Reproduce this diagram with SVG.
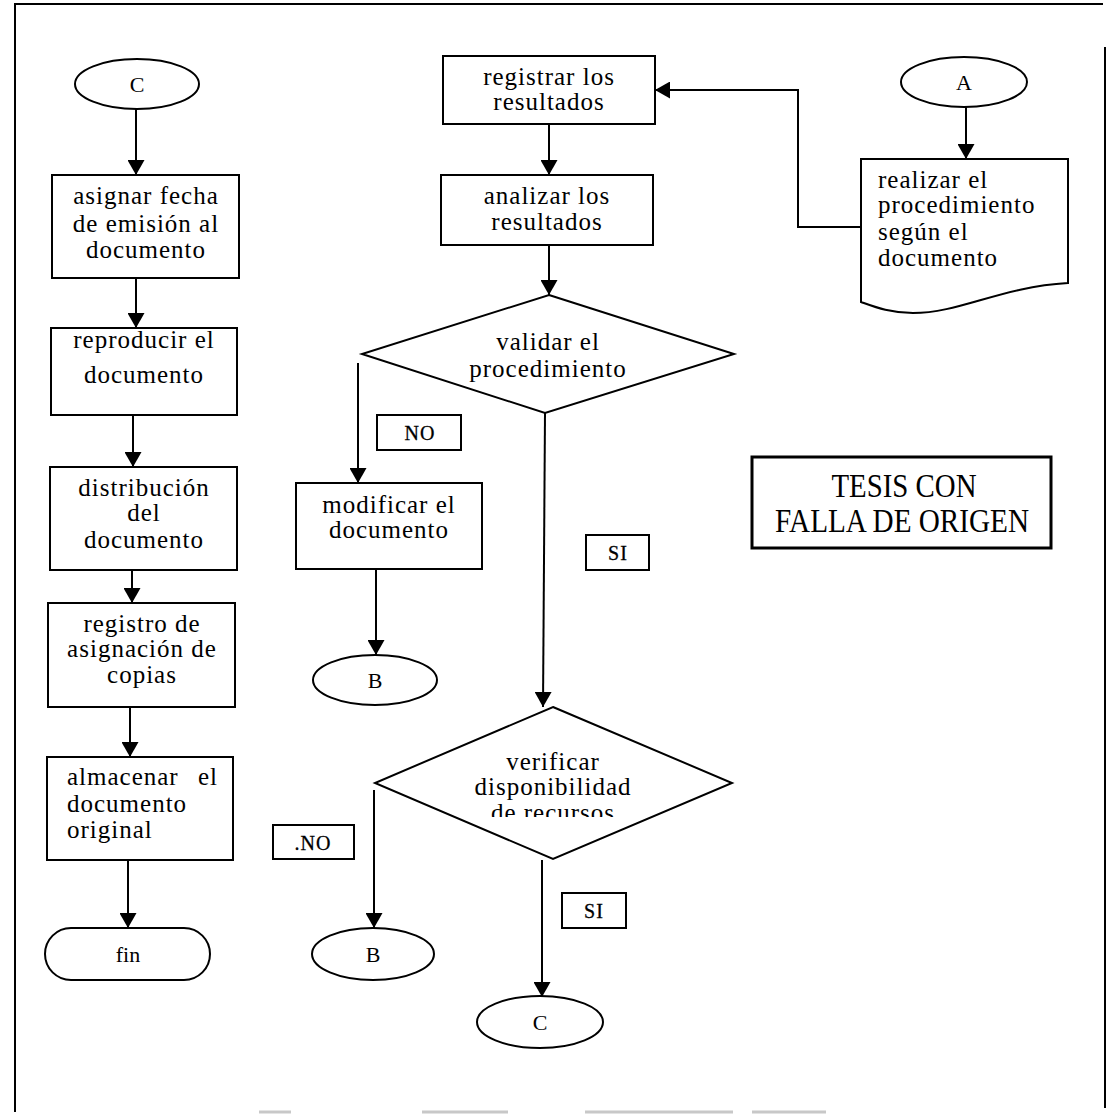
<svg xmlns="http://www.w3.org/2000/svg" width="1108" height="1114" viewBox="0 0 1108 1114">
  <style>
    .shape { fill: none; stroke: #000; stroke-width: 2; }
    .line { fill: none; stroke: #000; stroke-width: 2; }
    .t { font-family: "Liberation Serif", "DejaVu Serif", serif; font-size: 25px; letter-spacing: 1px; fill: #000; text-anchor: middle; }
    .tl { text-anchor: start; }
    .lbl { font-family: "Liberation Serif", "DejaVu Serif", serif; font-size: 20px; letter-spacing: 1px; fill: #000; text-anchor: middle; stroke: #000; stroke-width: 0.3; }
    .conn { font-family: "Liberation Serif", "DejaVu Serif", serif; font-size: 22px; fill: #000; text-anchor: middle; }
    .stamp { font-family: "Liberation Serif", "DejaVu Serif", serif; font-size: 33px; fill: #000; text-anchor: middle; }
  </style>
  <defs>
    <marker id="arrow" markerUnits="userSpaceOnUse" viewBox="0 0 15 17" markerWidth="15" markerHeight="17" refX="15" refY="8.5" orient="auto">
      <path d="M0,0 L15,8.5 L0,17 Z" fill="#000"/>
    </marker>
    <clipPath id="clipVerificar">
      <rect x="375" y="740" width="360" height="77"/>
    </clipPath>
  </defs>

  <rect width="1108" height="1114" fill="#fff"/>

  <!-- page frame -->
  <g id="frame">
    <path class="line" d="M15,1112 V4 H1103"/>
    <path class="line" d="M1105,47 V1108"/>
    <g stroke="#c8c8c8" stroke-width="3">
      <line x1="259" y1="1112" x2="291" y2="1112"/>
      <line x1="422" y1="1112" x2="508" y2="1112"/>
      <line x1="585" y1="1112" x2="733" y2="1112"/>
      <line x1="752" y1="1112" x2="826" y2="1112"/>
    </g>
  </g>

  <!-- connectors -->
  <g id="connectors">
    <line class="line" x1="136" y1="109" x2="136" y2="175" marker-end="url(#arrow)"/>
    <line class="line" x1="136" y1="278" x2="136" y2="328" marker-end="url(#arrow)"/>
    <line class="line" x1="133" y1="415" x2="133" y2="467" marker-end="url(#arrow)"/>
    <line class="line" x1="132" y1="570" x2="132" y2="603" marker-end="url(#arrow)"/>
    <line class="line" x1="130" y1="707" x2="130" y2="757" marker-end="url(#arrow)"/>
    <line class="line" x1="128" y1="860" x2="128" y2="928" marker-end="url(#arrow)"/>
    <line class="line" x1="966" y1="107" x2="966" y2="159" marker-end="url(#arrow)"/>
    <path class="line" d="M861,227 H798 V90 H655" marker-end="url(#arrow)"/>
    <line class="line" x1="549" y1="124" x2="549" y2="175" marker-end="url(#arrow)"/>
    <line class="line" x1="549" y1="245" x2="549" y2="295" marker-end="url(#arrow)"/>
    <line class="line" x1="358" y1="363" x2="358" y2="483" marker-end="url(#arrow)"/>
    <line class="line" x1="376" y1="569" x2="376" y2="655" marker-end="url(#arrow)"/>
    <line class="line" x1="545" y1="413" x2="543" y2="707" marker-end="url(#arrow)"/>
    <line class="line" x1="374" y1="790" x2="374" y2="928" marker-end="url(#arrow)"/>
    <line class="line" x1="542" y1="860" x2="542" y2="997" marker-end="url(#arrow)"/>
  </g>

  <!-- left column -->
  <g id="conector-c1">
    <ellipse class="shape" cx="137" cy="84" rx="62" ry="25"/>
    <text class="conn" x="137" y="92">C</text>
  </g>
  <g id="asignar-fecha">
    <rect class="shape" x="52" y="175" width="187" height="103"/>
    <text class="t" x="146" y="204">asignar fecha</text>
    <text class="t" x="146" y="232">de emisión al</text>
    <text class="t" x="146" y="258">documento</text>
  </g>
  <g id="reproducir">
    <rect class="shape" x="51" y="328" width="186" height="87"/>
    <text class="t" x="144" y="348">reproducir el</text>
    <text class="t" x="144" y="383">documento</text>
  </g>
  <g id="distribucion">
    <rect class="shape" x="50" y="467" width="187" height="103"/>
    <text class="t" x="144" y="496">distribución</text>
    <text class="t" x="144" y="521">del</text>
    <text class="t" x="144" y="548">documento</text>
  </g>
  <g id="registro-copias">
    <rect class="shape" x="48" y="603" width="187" height="104"/>
    <text class="t" x="142" y="632">registro de</text>
    <text class="t" x="142" y="657">asignación de</text>
    <text class="t" x="142" y="683">copias</text>
  </g>
  <g id="almacenar">
    <rect class="shape" x="47" y="757" width="186" height="103"/>
    <text class="t tl" x="67" y="785">almacenar</text>
    <text class="t tl" x="198" y="785">el</text>
    <text class="t tl" x="67" y="812">documento</text>
    <text class="t tl" x="67" y="838">original</text>
  </g>
  <g id="fin">
    <rect class="shape" x="45" y="928" width="165" height="52" rx="26" ry="26"/>
    <text class="conn" x="128" y="962">fin</text>
  </g>

  <!-- centre column -->
  <g id="registrar">
    <rect class="shape" x="443" y="56" width="212" height="68"/>
    <text class="t" x="549" y="85">registrar los</text>
    <text class="t" x="549" y="110">resultados</text>
  </g>
  <g id="analizar">
    <rect class="shape" x="441" y="175" width="212" height="70"/>
    <text class="t" x="547" y="204">analizar los</text>
    <text class="t" x="547" y="230">resultados</text>
  </g>
  <g id="validar">
    <polygon class="shape" points="549,295 734,354 545,413 362,354"/>
    <text class="t" x="548" y="350">validar el</text>
    <text class="t" x="548" y="377">procedimiento</text>
  </g>
  <g id="label-no-1">
    <rect class="shape" x="377" y="415" width="84" height="35"/>
    <text class="lbl" x="420" y="440">NO</text>
  </g>
  <g id="modificar">
    <rect class="shape" x="296" y="483" width="186" height="86"/>
    <text class="t" x="389" y="513">modificar el</text>
    <text class="t" x="389" y="538">documento</text>
  </g>
  <g id="conector-b1">
    <ellipse class="shape" cx="375" cy="680" rx="62" ry="25"/>
    <text class="conn" x="375" y="688">B</text>
  </g>
  <g id="label-si-1">
    <rect class="shape" x="586" y="535" width="63" height="35"/>
    <text class="lbl" x="618" y="560">SI</text>
  </g>
  <g id="verificar">
    <polygon class="shape" points="553,707 732,783 553,859 375,783"/>
    <g clip-path="url(#clipVerificar)">
      <text class="t" x="553" y="770">verificar</text>
      <text class="t" x="553" y="795">disponibilidad</text>
      <text class="t" x="553" y="821">de recursos</text>
    </g>
  </g>
  <g id="label-no-2">
    <rect class="shape" x="273" y="825" width="81" height="34"/>
    <text class="lbl" x="313" y="850">.NO</text>
  </g>
  <g id="conector-b2">
    <ellipse class="shape" cx="373" cy="954" rx="61" ry="26"/>
    <text class="conn" x="373" y="962">B</text>
  </g>
  <g id="label-si-2">
    <rect class="shape" x="562" y="893" width="64" height="35"/>
    <text class="lbl" x="594" y="918">SI</text>
  </g>
  <g id="conector-c2">
    <ellipse class="shape" cx="540" cy="1022" rx="63" ry="26"/>
    <text class="conn" x="540" y="1030">C</text>
  </g>

  <!-- right column -->
  <g id="conector-a">
    <ellipse class="shape" cx="964" cy="82" rx="63" ry="25"/>
    <text class="conn" x="964" y="90">A</text>
  </g>
  <g id="realizar-procedimiento">
    <path class="shape" d="M861,159 H1068 V283 C1000,287 960,313 913,313 C890,313 875,307 861,302 Z"/>
    <text class="t tl" x="878" y="188">realizar el</text>
    <text class="t tl" x="878" y="213">procedimiento</text>
    <text class="t tl" x="878" y="240">según el</text>
    <text class="t tl" x="878" y="266">documento</text>
  </g>
  <g id="sello">
    <rect x="752" y="457" width="299" height="91" fill="none" stroke="#000" stroke-width="3"/>
    <text class="stamp" x="904" y="497" textLength="145" lengthAdjust="spacingAndGlyphs">TESIS CON</text>
    <text class="stamp" x="902" y="532" textLength="254" lengthAdjust="spacingAndGlyphs">FALLA DE ORIGEN</text>
  </g>
</svg>
